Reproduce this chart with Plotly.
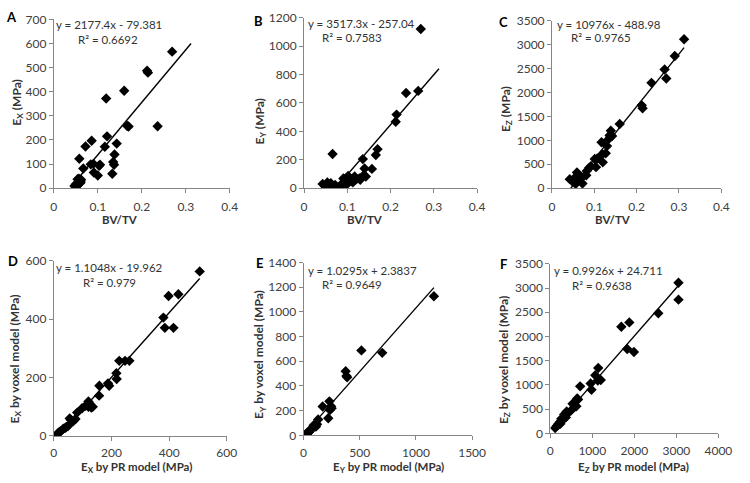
import plotly.graph_objects as go

# ---------------- data ----------------
A_bvtv = [0.269,0.212,0.214,0.160,0.119,0.167,0.170,0.236,0.121,0.086,0.072,0.116,0.143,0.138,0.135,0.137,0.133,0.058,0.067,0.084,0.090,0.091,0.100,0.105,0.103,0.047,0.050,0.051,0.054,0.056,0.058,0.059,0.060,0.062,0.055,0.053,0.057,0.061]
A_ex = [566,487,479,404,372,258,256,257,215,197,173,172,185,140,109,97,60,122,82,99,101,65,53,97,93,9,17,6,37,24,31,28,22,35,14,12,40,26]

B_bvtv = [0.270,0.236,0.264,0.214,0.212,0.170,0.166,0.157,0.136,0.140,0.066,0.102,0.106,0.117,0.121,0.128,0.136,0.113,0.094,0.091,0.087,0.081,0.094,0.100,0.043,0.049,0.054,0.058,0.066,0.072,0.060,0.053,0.143,0.130,0.110,0.062]
B_ey = [1120,670,685,518,468,275,234,136,205,139,241,86,64,82,64,68,86,41,64,68,30,7,30,30,30,14,41,23,18,23,7,7,82,60,50,35]

C_bvtv = [0.312,0.290,0.266,0.270,0.235,0.212,0.214,0.160,0.139,0.142,0.136,0.133,0.117,0.130,0.119,0.127,0.101,0.107,0.120,0.104,0.092,0.088,0.081,0.082,0.072,0.042,0.0485,0.054,0.059,0.064,0.067,0.056,0.062,0.052]
C_ez = [3110,2760,2480,2290,2200,1730,1670,1340,1200,1090,1100,1020,960,880,710,730,610,620,540,440,460,430,270,360,100,190,140,220,330,270,190,90,240,170]

D_pr = [506,398,432,380,385,415,227,247,262,217,218,188,192,158,157,120,120,130,98,81,55,75,67,50,44,33,25,16,12,110,125,135,60,40,20]
D_vox = [563,479,485,405,370,370,257,257,257,215,195,180,172,172,138,118,100,97,95,80,60,58,50,35,31,25,17,11,6,103,108,100,55,28,14]

E_pr = [1160,515,700,375,388,382,170,220,230,235,245,250,130,120,100,90,80,70,60,50,40,30,20,15,110,85,65,45,35,25]
E_vox = [1127,688,668,520,470,480,233,138,275,205,235,220,128,90,78,82,62,50,40,32,25,16,8,5,70,65,45,22,20,10]

F_pr = [3050,3050,2570,1690,1880,1830,1990,1140,1070,1200,1130,960,980,710,640,660,530,580,390,490,370,290,195,115,230,155,260,330,420,620,175,240]
F_vox = [3110,2760,2480,2200,2290,1740,1680,1350,1200,1100,1090,1030,900,970,720,700,610,550,450,470,330,270,200,110,235,150,300,390,420,560,170,200]

slopes = [2177.4, 3517.3, 10976, 1.1048, 1.0295, 0.9926]
intercepts = [-79.381, -257.04, -488.98, -19.962, 2.3837, 24.711]
eq_text = ["y = 2177.4x - 79.381", "y = 3517.3x - 257.04", "y = 10976x - 488.98",
           "y = 1.1048x - 19.962", "y = 1.0295x + 2.3837", "y = 0.9926x + 24.711"]
r2_text = ["R² = 0.6692", "R² = 0.7583", "R² = 0.9765",
           "R² = 0.979", "R² = 0.9649", "R² = 0.9638"]
letters = ["A", "B", "C", "D", "E", "F"]
x_ranges = [[0, 0.4], [0, 0.4], [0, 0.4], [0, 600], [0, 1500], [0, 4000]]
y_ranges = [[0, 700], [0, 1200], [0, 3500], [0, 600], [0, 1400], [0, 3500]]
x_dtick = [0.1, 0.1, 0.1, 200, 500, 1000]
y_dtick = [100, 200, 500, 200, 200, 500]
x_titles = ["BV/TV", "BV/TV", "BV/TV",
            "E<sub>X</sub> by PR model (MPa)", "E<sub>Y</sub> by PR model (MPa)", "E<sub>Z</sub> by PR model (MPa)"]
y_titles = ["E<sub>X</sub> (MPa)", "E<sub>Y</sub> (MPa)", "E<sub>Z</sub> (MPa)",
            "E<sub>X</sub> by voxel model (MPa)", "E<sub>Y</sub> by voxel model (MPa)", "E<sub>Z</sub> by voxel model (MPa)"]

# ---------------- layout geometry (pixels) ----------------
W, H = 750, 483
boxes = [  # left, right, top, bottom
    (52, 232, 11.7, 186),
    (308, 485, 10, 186),
    (561.7, 735, 13, 186),
    (52, 229, 260.7, 441.7),
    (307.5, 480, 262.7, 441),
    (560, 732, 264, 439),
]
letter_pos = [(9, 9), (261, 13), (512, 14), (10, 261), (262, 263), (512, 264)]
eq_pos = [(52, 17), (310, 16), (565, 17), (52, 268), (310, 271), (562, 271)]
r2_pos = [(75, 33), (324, 30), (579, 30), (80, 283), (324, 285), (580, 286)]
ytitle_pos = [(15, 97), (263, 117), (515, 104), (13, 362), (263, 358), (513, 363)]
xtitle_pos = [(120, 218), (370, 218), (624, 218), (137, 474), (394, 474), (645, 474)]

data_x = [A_bvtv, B_bvtv, C_bvtv, D_pr, E_pr, F_pr]
data_y = [A_ex, B_ey, C_ez, D_vox, E_vox, F_vox]

FONT = "Lato"
fig = go.Figure()
annotations = []
axis_common = dict(showline=True, linecolor="#868686", linewidth=1, ticks="outside",
                   ticklen=4, tickcolor="#868686", showgrid=False, zeroline=False,
                   tickfont=dict(family=FONT, size=12, color="#404040"))

for i in range(6):
    xa = "x" if i == 0 else f"x{i+1}"
    ya = "y" if i == 0 else f"y{i+1}"
    l, r, t, b = boxes[i]
    xs, ys = data_x[i], data_y[i]
    fig.add_trace(go.Scatter(x=xs, y=ys, mode="markers", xaxis=xa, yaxis=ya,
                             marker=dict(symbol="diamond", size=8, color="black"),
                             showlegend=False))
    x0 = min(min(xs), 0.045) if i < 3 else min(xs)
    x1 = 0.312 if i < 3 else max(xs)
    fig.add_trace(go.Scatter(x=[x0, x1],
                             y=[slopes[i] * x0 + intercepts[i], slopes[i] * x1 + intercepts[i]],
                             mode="lines", xaxis=xa, yaxis=ya,
                             line=dict(color="black", width=1.4), showlegend=False))
    key_x = "xaxis" if i == 0 else f"xaxis{i+1}"
    key_y = "yaxis" if i == 0 else f"yaxis{i+1}"
    fig.update_layout({
        key_x: dict(domain=[l / W, r / W], range=x_ranges[i], dtick=x_dtick[i], tick0=0,
                    anchor=ya, ticklabelstandoff=3 if i < 3 else 2, **axis_common),
        key_y: dict(domain=[1 - b / H, 1 - t / H], range=y_ranges[i], dtick=y_dtick[i], tick0=0,
                    anchor=xa, **axis_common),
    })
    def ann(text, pos, size, bold=False, xanchor="left", angle=0, color="#1a1a1a"):
        return dict(text=f"<b>{text}</b>" if bold else text, x=pos[0] / W, y=1 - pos[1] / H,
                    xref="paper", yref="paper", showarrow=False, xanchor=xanchor,
                    yanchor="middle", textangle=angle,
                    font=dict(family=FONT, size=size, color=color))
    annotations.append(ann(letters[i], letter_pos[i], 13, bold=True, xanchor="center", color="black"))
    annotations.append(ann(eq_text[i], eq_pos[i], 11.5, color="#333333"))
    annotations.append(ann(r2_text[i], r2_pos[i], 11.5, color="#333333"))
    annotations.append(ann(y_titles[i], ytitle_pos[i], 12, bold=True, xanchor="center", angle=-90, color="#333333"))
    annotations.append(ann(x_titles[i], xtitle_pos[i], 11.5, bold=True, xanchor="center", color="#333333"))

fig.update_layout(width=W, height=H, margin=dict(l=0, r=0, t=0, b=0),
                  paper_bgcolor="white", plot_bgcolor="white",
                  annotations=annotations, showlegend=False)
fig.write_html("out.html", config={"displayModeBar": False},
               post_script="document.body.style.margin='0';")
